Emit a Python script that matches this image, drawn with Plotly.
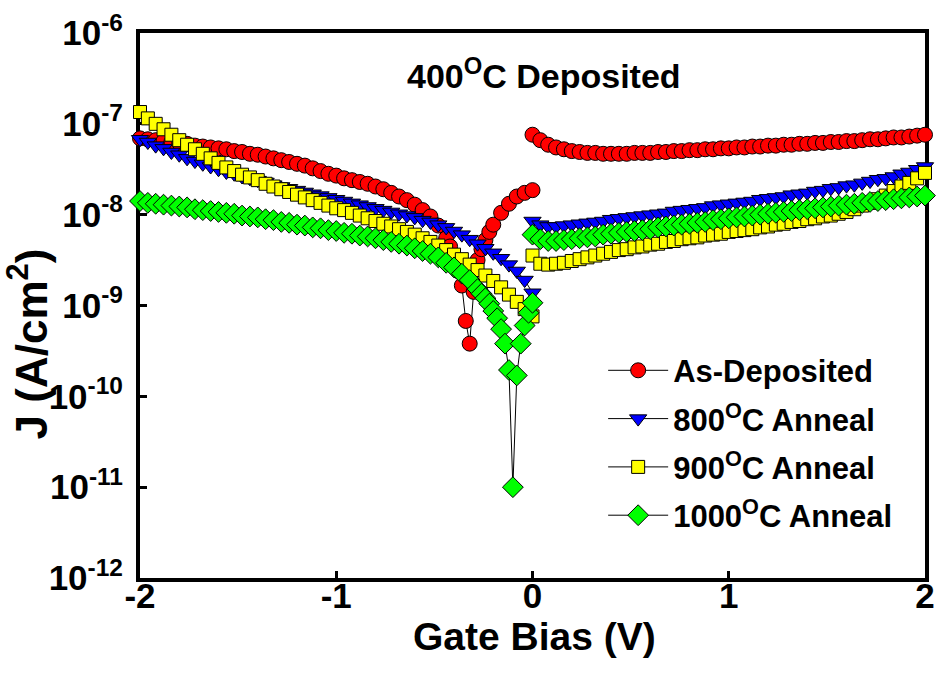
import plotly.graph_objects as go

# ---- data (log10 of J in A/cm^2) ----
V_NEG_COMMON = [-2.00, -1.96, -1.92, -1.88, -1.84, -1.80, -1.76, -1.72, -1.68, -1.64,
                -1.60, -1.56, -1.52, -1.48, -1.44, -1.40, -1.36, -1.32, -1.28, -1.24,
                -1.20, -1.16, -1.12, -1.08, -1.04, -1.00, -0.96, -0.92, -0.88, -0.84,
                -0.80, -0.76, -0.72, -0.68, -0.64, -0.60, -0.56, -0.52, -0.48, -0.44]
V_POS = [0.00, 0.04, 0.08, 0.12, 0.16, 0.20, 0.24, 0.28, 0.32, 0.36,
         0.40, 0.44, 0.48, 0.52, 0.56, 0.60, 0.64, 0.68, 0.72, 0.76,
         0.80, 0.84, 0.88, 0.92, 0.96, 1.00, 1.04, 1.08, 1.12, 1.16,
         1.20, 1.24, 1.28, 1.32, 1.36, 1.40, 1.44, 1.48, 1.52, 1.56,
         1.60, 1.64, 1.68, 1.72, 1.76, 1.80, 1.84, 1.88, 1.92, 1.96, 2.00]

# As-Deposited
RED_TAIL_V = [-0.42, -0.40, -0.38, -0.36, -0.34, -0.32, -0.30, -0.28, -0.26, -0.24,
              -0.22, -0.20, -0.16, -0.12, -0.08, -0.04, 0.00]
RED_NEG = [-7.16, -7.17, -7.18, -7.19, -7.20, -7.21, -7.22, -7.24, -7.25, -7.26,
           -7.27, -7.28, -7.30, -7.31, -7.33, -7.34, -7.36, -7.38, -7.40, -7.42,
           -7.44, -7.46, -7.49, -7.52, -7.55, -7.57, -7.60, -7.62, -7.64, -7.66,
           -7.69, -7.72, -7.76, -7.80, -7.84, -7.89, -7.95, -8.02, -8.12, -8.26,
           -8.35, -8.46, -8.62, -8.78, -9.17, -9.42, -8.85, -8.50, -8.38, -8.28,
           -8.19, -8.11, -7.98, -7.88, -7.80, -7.76, -7.73]
RED_POS = [-7.12, -7.18, -7.23, -7.26, -7.28, -7.30, -7.31, -7.32, -7.32, -7.33,
           -7.33, -7.33, -7.33, -7.32, -7.32, -7.32, -7.31, -7.31, -7.30, -7.30,
           -7.29, -7.29, -7.28, -7.28, -7.27, -7.27, -7.26, -7.26, -7.25, -7.25,
           -7.24, -7.24, -7.23, -7.23, -7.22, -7.22, -7.21, -7.21, -7.20, -7.20,
           -7.19, -7.19, -7.18, -7.17, -7.17, -7.16, -7.15, -7.15, -7.14, -7.13, -7.12]

# 800C anneal
TAIL_V = [-0.40, -0.36, -0.32, -0.28, -0.24, -0.20, -0.16, -0.12, -0.08, -0.04, 0.00]
BLUE_NEG = [-7.17, -7.20, -7.24, -7.27, -7.31, -7.34, -7.38, -7.41, -7.44, -7.47,
            -7.50, -7.53, -7.55, -7.58, -7.60, -7.62, -7.64, -7.67, -7.69, -7.71,
            -7.73, -7.75, -7.77, -7.79, -7.81, -7.83, -7.85, -7.87, -7.89, -7.91,
            -7.93, -7.95, -7.97, -7.99, -8.01, -8.03, -8.06, -8.08, -8.11, -8.14,
            -8.18, -8.22, -8.27, -8.32, -8.37, -8.42, -8.48, -8.55, -8.62, -8.72, -8.86]
BLUE_POS = [-8.07, -8.11, -8.13, -8.13, -8.12, -8.11, -8.10, -8.09, -8.08, -8.07,
            -8.05, -8.04, -8.03, -8.02, -8.01, -8.00, -7.99, -7.98, -7.96, -7.95,
            -7.94, -7.93, -7.92, -7.90, -7.89, -7.88, -7.87, -7.86, -7.85, -7.83,
            -7.82, -7.81, -7.80, -7.78, -7.77, -7.76, -7.74, -7.73, -7.71, -7.70,
            -7.68, -7.67, -7.65, -7.63, -7.61, -7.60, -7.58, -7.55, -7.53, -7.50, -7.47]

# 900C anneal
YEL_NEG = [-6.87, -6.94, -7.00, -7.06, -7.12, -7.18, -7.23, -7.28, -7.33, -7.38,
           -7.43, -7.48, -7.52, -7.56, -7.59, -7.62, -7.66, -7.69, -7.72, -7.75,
           -7.78, -7.81, -7.84, -7.87, -7.90, -7.93, -7.95, -7.98, -8.01, -8.04,
           -8.07, -8.10, -8.13, -8.16, -8.19, -8.22, -8.26, -8.30, -8.34, -8.39,
           -8.44, -8.49, -8.55, -8.61, -8.67, -8.73, -8.80, -8.88, -8.96, -9.04, -9.12]
YEL_POS = [-8.45, -8.54, -8.55, -8.54, -8.53, -8.51, -8.49, -8.47, -8.45, -8.43,
           -8.41, -8.39, -8.38, -8.36, -8.35, -8.33, -8.32, -8.30, -8.29, -8.27,
           -8.26, -8.25, -8.23, -8.22, -8.21, -8.19, -8.18, -8.17, -8.16, -8.14,
           -8.13, -8.11, -8.10, -8.08, -8.07, -8.05, -8.04, -8.02, -8.01, -7.99,
           -7.97, -7.94, -7.90, -7.87, -7.83, -7.79, -7.74, -7.69, -7.65, -7.60, -7.54]

# 1000C anneal
GRN_TAIL_V = [-0.40, -0.36, -0.32, -0.28, -0.26, -0.24, -0.22, -0.20, -0.18, -0.16,
              -0.14, -0.12, -0.10, -0.08, -0.06, -0.04, -0.02, 0.00]
GRN_NEG = [-7.85, -7.87, -7.88, -7.89, -7.90, -7.91, -7.92, -7.94, -7.95, -7.96,
           -7.97, -7.98, -7.99, -8.01, -8.02, -8.03, -8.05, -8.06, -8.08, -8.09,
           -8.11, -8.12, -8.14, -8.15, -8.17, -8.18, -8.20, -8.21, -8.23, -8.24,
           -8.26, -8.28, -8.30, -8.32, -8.34, -8.37, -8.40, -8.43, -8.47, -8.53,
           -8.58, -8.65, -8.72, -8.82, -8.87, -8.92, -8.98, -9.06, -9.14, -9.26,
           -9.42, -9.71, -11.00, -9.77, -9.42, -9.22, -9.08, -8.97]
GRN_POS = [-8.22, -8.27, -8.29, -8.29, -8.28, -8.27, -8.26, -8.25, -8.24, -8.22,
           -8.21, -8.20, -8.19, -8.18, -8.17, -8.16, -8.14, -8.13, -8.12, -8.11,
           -8.10, -8.09, -8.08, -8.06, -8.05, -8.04, -8.03, -8.02, -8.01, -8.00,
           -7.99, -7.98, -7.97, -7.96, -7.95, -7.94, -7.93, -7.92, -7.91, -7.90,
           -7.89, -7.88, -7.87, -7.86, -7.85, -7.84, -7.83, -7.82, -7.81, -7.80, -7.79]

Y_TICK_EXP = [-12, -11, -10, -9, -8, -7, -6]
X_TICKS = [-2, -1, 0, 1, 2]

SERIES = [
    ("As-Deposited", V_NEG_COMMON + RED_TAIL_V, RED_NEG, RED_POS, "circle", "#ff0000", 15),
    ("800<sup>O</sup>C Anneal", V_NEG_COMMON + TAIL_V, BLUE_NEG, BLUE_POS, "triangle-down", "#0000ff", 15),
    ("900<sup>O</sup>C Anneal", V_NEG_COMMON + TAIL_V, YEL_NEG, YEL_POS, "square", "#ffff00", 13),
    ("1000<sup>O</sup>C Anneal", V_NEG_COMMON + GRN_TAIL_V, GRN_NEG, GRN_POS, "diamond", "#00ff00", 16),
]

FONT = "Liberation Sans, Arial, sans-serif"

fig = go.Figure()
for i, (name, xn, yn, yp, sym, col, sz) in enumerate(SERIES):
    xs = list(xn) + [None] + list(V_POS)
    ys = [10 ** v for v in yn] + [None] + [10 ** v for v in yp]
    fig.add_trace(go.Scatter(
        x=xs, y=ys, name=name, mode="lines+markers", legendgroup=f"g{i}",
        line=dict(color="black", width=1),
        marker=dict(symbol=sym, color=col, size=sz, line=dict(color="black", width=1)),
        cliponaxis=False, connectgaps=False,
    ))

fig.update_layout(
    width=944, height=687,
    margin=dict(l=140, r=9, t=25, b=109),
    paper_bgcolor="white", plot_bgcolor="white",
    font=dict(family=FONT, color="black", size=30, weight="bold"),
    showlegend=True,
    legend=dict(x=0.59, y=0.43, xanchor="left", yanchor="top",
                bgcolor="rgba(0,0,0,0)", traceorder="grouped", tracegroupgap=5,
                font=dict(family=FONT, size=31, color="black", weight="bold"),
                itemwidth=60),
    annotations=[
        dict(text="400<sup>O</sup>C Deposited", x=0.515, y=0.925,
             xref="paper", yref="paper", xanchor="center", yanchor="middle", showarrow=False,
             font=dict(family=FONT, size=34, color="black", weight="bold")),
        dict(text="J (A/cm<sup>2</sup>)", x=-0.143, y=0.43, textangle=-90,
             xref="paper", yref="paper", xanchor="center", yanchor="middle", showarrow=False,
             font=dict(family=FONT, size=44, color="black", weight="bold")),
        dict(text="Gate Bias (V)", x=0.503, y=-0.107,
             xref="paper", yref="paper", xanchor="center", yanchor="middle", showarrow=False,
             font=dict(family=FONT, size=39, color="black", weight="bold")),
    ],
)
fig.update_xaxes(
    range=[-2, 2], tickvals=X_TICKS, ticktext=[f"{v:d}" if v >= 0 else f"-{abs(v)}" for v in X_TICKS],
    ticks="inside", ticklen=7, tickwidth=3, tickcolor="black",
    showline=True, linewidth=4, linecolor="black", mirror=True,
    showgrid=False, zeroline=False, layer="below traces",
    tickfont=dict(family=FONT, size=35, weight="bold"), ticklabelstandoff=-16,
)
fig.update_yaxes(
    type="log", range=[-12, -6],
    tickvals=[10 ** e for e in Y_TICK_EXP],
    ticktext=[f"10<sup>{e}</sup>" for e in Y_TICK_EXP],
    ticks="inside", ticklen=7, tickwidth=3, tickcolor="black",
    showline=True, linewidth=4, linecolor="black", mirror=True,
    showgrid=False, zeroline=False, layer="below traces",
    tickfont=dict(family=FONT, size=35, weight="bold"), ticklabelstandoff=6,
)

fig.write_html("out.html")
